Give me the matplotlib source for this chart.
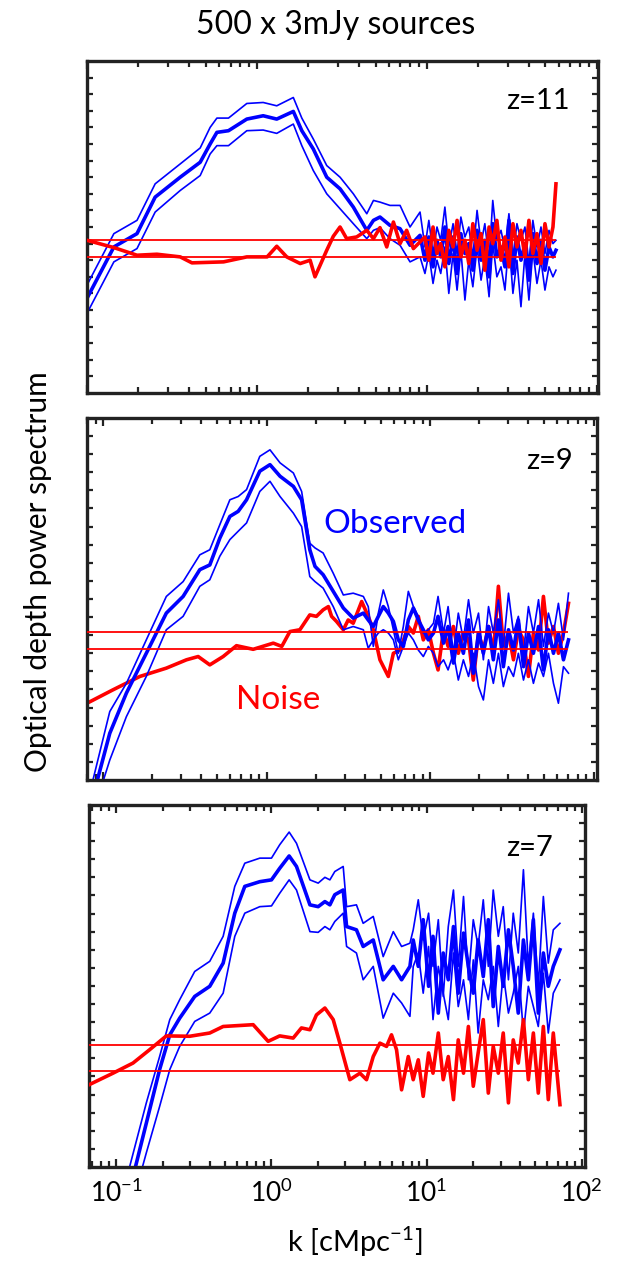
import numpy as np
import matplotlib.pyplot as plt
from matplotlib.ticker import LogLocator, FuncFormatter, NullFormatter

plt.rcParams['font.family'] = ['Lato', 'DejaVu Sans']
plt.rcParams['mathtext.default'] = 'regular'

BLUE = (0, 0, 1)
RED = (1, 0, 0)

# ---------------- z = 11 ----------------
z11_k_obs = [0.100, 0.144, 0.197, 0.252, 0.354, 0.464, 0.531, 0.582, 0.681, 0.873,
             1.09, 1.31, 1.64, 1.84, 2.15, 2.58, 3.09, 3.70, 4.44, 4.86, 5.31, 6.08,
             6.97, 7.98, 9.14]
z11_k_red = [0.100, 0.144, 0.197, 0.258, 0.354, 0.415, 0.637, 0.873, 1.15, 1.31, 1.50,
             1.80, 2.06, 2.20, 2.58, 2.82, 3.09, 3.38, 3.87, 4.44, 4.86, 5.31, 5.82,
             6.37, 6.97, 7.62, 8.35]
z11_k_high = [9.77, 10.3, 10.9, 11.5, 12.1, 12.8, 13.5, 14.3, 15.1, 15.9, 16.8, 17.7,
              18.7, 19.8, 20.9, 22.0, 23.3, 24.5, 25.9, 27.4, 28.9, 30.5, 32.2, 34.0,
              35.9, 37.9, 40.0, 42.2, 44.6, 47.1, 49.7, 52.5, 55.4, 57.7]
z11_hi = [32.5, 48.0, 52.0, 63.0, 69.0, 73.8, 80.0, 82.8, 82.8, 87.2, 87.5, 86.5, 89.0,
          82.8, 76.5, 68.5, 65.0, 60.0, 54.0, 58.0, 57.5, 56.5, 56.5, 50.0, 54.5,
          44, 52, 42, 50, 46, 56, 44, 51, 42, 53, 47, 50, 41, 55, 45, 51, 40, 58, 46,
          49, 43, 54, 41, 51, 46, 50, 39, 52, 44, 50, 42, 49, 45, 46]
z11_mid = [28.5, 44.0, 48.0, 59.0, 65.0, 69.5, 75.0, 78.5, 79.0, 82.5, 83.5, 82.5, 84.8,
           79.0, 73.5, 65.0, 61.5, 56.0, 49.0, 52.0, 53.0, 50.5, 49.5, 44.5, 47.5,
           40, 47, 38, 46, 41, 50, 39, 47, 36, 48, 42, 45, 37, 49, 40, 46, 35, 51, 41,
           44, 38, 52, 36, 47, 40, 45, 34, 48, 39, 46, 37, 44, 41, 43]
z11_lo = [24.0, 39.5, 43.5, 54.5, 61.0, 65.5, 72.0, 74.5, 74.5, 79.0, 79.2, 78.2, 81.0,
          74.5, 67.0, 60.0, 55.5, 51.0, 46.5, 49.0, 49.8, 46.5, 44.5, 39.5, 41.0,
          36, 42, 33, 40, 36, 44, 30, 42, 31, 43, 28, 40, 32, 44, 34, 41, 29, 45, 35,
          38, 31, 46, 30, 40, 26, 42, 28, 43, 33, 40, 31, 38, 35, 37]
z11_noise = [46.0, 43.8, 41.5, 41.8, 41.0, 39.2, 39.5, 41.0, 41.0, 44.2, 41.0, 39.0,
             40.0, 35.0, 43.0, 47.2, 50.0, 46.5, 47.0, 49.0, 46.5, 49.8, 44.0, 51.5,
             45.0, 49.0, 43.5,
             47, 40, 50, 42, 45, 38, 49, 44, 52, 41, 46, 39, 51, 43, 48, 37, 50, 45,
             52, 40, 47, 38, 51, 44, 49, 41, 52, 42, 48, 39, 51, 44, 50, 63]
z11_levels = [46.2, 41.1]

# ---------------- z = 9 ----------------
z9_k_obs = [0.0868, 0.110, 0.139, 0.184, 0.244, 0.309, 0.391, 0.450, 0.518, 0.597,
            0.671, 0.755, 0.910, 1.05, 1.21, 1.46, 1.64, 1.84, 1.98, 2.22, 2.56, 2.95,
            3.39]
z9_k_red = [0.0798, 0.115, 0.168, 0.244, 0.324, 0.382, 0.450, 0.543, 0.655, 0.829,
            1.10, 1.24, 1.39, 1.60, 1.84, 2.02, 2.22, 2.39, 2.50, 2.68, 2.95, 3.16,
            3.39, 3.82, 4.19, 4.50, 4.94, 5.56, 5.97, 6.55]
z9_k_high = [3.91, 4.19, 4.50, 4.83, 5.18, 5.56, 5.97, 6.40, 6.87, 7.37, 7.91, 8.48,
             9.10, 9.77, 10.5, 11.2, 12.1, 12.9, 13.9, 14.9, 16.0, 17.2, 18.4, 19.8,
             21.2, 22.8, 24.4, 26.2, 28.1, 30.2, 32.4, 34.7, 37.3, 40.0, 42.9, 46.1,
             49.4, 53.0, 56.9, 61.0, 65.5, 70.3]
z9_hi = [0, 18.9, 26.7, 38.7, 50.7, 54.8, 62.2, 63.6, 70.5, 77.4, 78.3, 80.2, 89.4,
         91.2, 87.6, 84.8, 79.7, 65.4, 64.1, 62.7, 57.1, 51.1, 51.6,
         50.7, 47.9, 36.9, 46.1, 52.5, 47.9, 41.5, 35.0, 42.4, 52.1, 47.9, 45.2, 40.6,
         41.5, 43.3, 50.7, 40.6, 47.9, 35.0, 46.1, 38.7, 49.8, 40.6, 46.1, 33.2, 47.9,
         40.6, 49.8, 36.9, 51.6, 40.6, 45.2, 35.0, 47.9, 40.6, 49.8, 36.9, 46.1, 40.6,
         48.8, 38.7, 51.6]
z9_mid = [-4.6, 12.9, 24.0, 35.0, 46.1, 50.7, 58.1, 59.4, 66.8, 72.8, 74.2, 77.4, 85.3,
          87.1, 83.9, 81.1, 77.4, 63.6, 59.0, 56.7, 52.1, 47.5, 44.7,
          46.1, 44.2, 42.4, 45.2, 47.9, 46.1, 43.8, 38.7, 36.9, 44.2, 47.5, 44.2, 41.5,
          38.7, 40.6, 45.2, 37.8, 42.4, 32.3, 40.6, 35.0, 44.2, 29.5, 40.6, 35.0, 42.4,
          33.2, 44.2, 31.3, 41.5, 35.9, 44.2, 31.3, 40.6, 35.0, 42.4, 30.4, 41.5, 35.0,
          40.6, 33.2, 38.7]
z9_lo = [-9.2, 5.5, 17.5, 28.6, 41.5, 45.2, 53.5, 55.3, 61.8, 66.4, 68.7, 71.0, 79.7,
         82.5, 78.3, 73.7, 70.0, 56.2, 54.8, 53.0, 47.9, 41.5, 42.4,
         41.5, 36.4, 38.7, 40.6, 41.5, 40.6, 38.7, 33.2, 36.9, 40.6, 38.7, 35.9, 34.1,
         36.9, 35.0, 31.3, 33.2, 30.4, 35.0, 27.6, 33.2, 28.6, 35.0, 25.8, 22.1, 33.2,
         26.7, 35.0, 25.8, 31.3, 28.6, 35.0, 27.6, 33.2, 26.7, 32.3, 28.6, 35.0, 26.7,
         21.2, 31.3, 29.5]
z9_noise = [21.2, 24.9, 28.6, 30.9, 33.2, 34.1, 31.8, 34.1, 37.1, 36.1, 37.8, 36.9,
            41.0, 41.5, 45.6, 45.2, 47.0, 47.9, 45.2, 43.8, 41.5, 44.2, 43.3, 49.3,
            45.2, 41.5, 33.2, 28.6, 35.0, 35.9,
            42.4, 40.6, 45.2, 38.7, 41.5, 35.0, 30.4, 41.5, 36.9, 42.4, 35.0, 40.6,
            38.7, 27.6, 40.6, 35.9, 42.4, 35.0, 53.5, 36.9, 40.6, 33.2, 41.5, 38.7,
            28.6, 40.6, 35.9, 50.7, 37.8, 42.4, 35.0, 40.6, 48.8]
z9_levels = [41.0, 36.2]

# ---------------- z = 7 ----------------
z7_k_obs = [0.122, 0.156, 0.190, 0.221, 0.256, 0.320, 0.400, 0.488, 0.580, 0.673,
            0.841, 1.00, 1.13, 1.30, 1.45, 1.77, 2.00, 2.21, 2.38, 2.56, 2.90, 3.05,
            3.53, 3.90, 4.53, 5.25, 6.10, 6.90, 7.81]
z7_k_red = [0.0666, 0.0951, 0.128, 0.164, 0.210, 0.297, 0.400, 0.488, 0.762, 0.952,
            1.13, 1.38, 1.56, 1.77, 1.95, 2.21, 2.50, 2.76, 3.20, 3.72, 4.10, 4.53,
            5.00, 5.52, 5.94, 6.40, 6.90, 7.62]
z7_k_high = [8.20, 8.84, 9.51, 10.3, 11.0, 11.9, 12.8, 13.8, 14.9, 16.0, 17.3, 18.6,
             20.0, 21.5, 23.2, 25.0, 26.9, 29.0, 31.2, 33.7, 36.2, 39.0, 42.1, 45.3,
             48.8, 52.5, 56.6, 60.9, 65.6, 72.4]
z7_hi = [0.2, 17.7, 30.5, 40.7, 46.2, 54.0, 56.8, 63.7, 77.5, 83.9, 85.3, 85.3, 89.0,
         92.5, 89.4, 79.3, 78.4, 80.0, 79.3, 81.6, 83.0, 71.9, 72.4, 67.3, 69.2, 58.1,
         65.0, 60.9, 61.8,
         65.5, 73.8, 62.7, 70.1, 55.4, 68.3, 47.1, 66.4, 76.5, 55.4, 74.7, 51.7, 68.3,
         60.9, 73.8, 55.4, 76.5, 63.7, 71.9, 51.7, 70.1, 59.1, 82.1, 55.4, 70.1, 49.9,
         74.7, 56.3, 65.5, 67.3]
z7_mid = [-6.3, 12.1, 26.9, 36.5, 41.1, 47.1, 49.9, 56.3, 70.1, 77.5, 78.8, 79.3, 82.5,
          85.9, 83.0, 72.4, 71.9, 73.3, 72.4, 75.2, 76.5, 66.4, 65.5, 60.9, 62.7, 51.7,
          55.4, 51.7, 55.4,
          62.7, 55.4, 68.3, 49.9, 63.7, 42.5, 59.1, 51.7, 66.4, 48.0, 64.6, 55.4, 48.0,
          62.7, 52.6, 68.3, 44.3, 60.9, 49.9, 65.5, 55.4, 42.5, 62.7, 51.7, 68.3, 42.5,
          59.1, 49.9, 55.4, 60.0]
z7_lo = [-12.7, 3.9, 16.7, 26.9, 33.3, 40.2, 42.5, 48.0, 63.7, 70.1, 71.9, 72.1, 75.6,
         79.3, 76.5, 65.0, 64.8, 66.4, 65.5, 67.8, 70.1, 60.9, 59.1, 51.7, 55.4, 41.1,
         48.0, 45.3, 41.6,
         55.4, 59.1, 48.0, 60.9, 40.7, 55.4, 48.0, 40.7, 59.1, 44.3, 51.7, 40.7, 57.2,
         37.0, 51.7, 46.2, 55.4, 38.8, 53.5, 42.5, 48.0, 55.4, 37.0, 49.9, 44.3, 38.8,
         53.5, 37.0, 48.0, 51.7]
z7_noise = [22.7, 25.9, 28.7, 32.4, 36.2, 36.1, 37.0, 38.8, 39.3, 34.7, 36.2, 35.6,
            38.4, 37.9, 42.0, 43.9, 40.7, 34.2, 24.1, 25.9, 24.1, 30.5, 34.2, 33.3,
            36.5, 32.4, 21.3, 30.5,
            24.1, 29.6, 19.5, 31.5, 25.9, 37.0, 24.1, 30.5, 18.6, 35.1, 25.9, 38.8,
            22.3, 31.5, 40.7, 20.4, 33.3, 25.9, 37.0, 17.7, 35.1, 28.7, 40.7, 24.1,
            37.0, 20.4, 38.8, 18.6, 37.0, 17.2]
z7_levels = [33.8, 26.6]


def panel(ax, k_obs, k_red, k_high, hi, mid, lo, noise, levels, xlim, zlabel, zx,
          red_on_top=True, high_from=0):
    k_blue = np.concatenate([k_obs, k_high])
    k_noise = np.concatenate([k_red, k_high[high_from:]])
    zr = 3 if red_on_top else 1
    ax.plot(k_blue, hi, color=BLUE, lw=1.2, zorder=2)
    ax.plot(k_blue, lo, color=BLUE, lw=1.2, zorder=2)
    ax.plot(k_blue, mid, color=BLUE, lw=2.6, zorder=2)
    ax.plot(k_noise, noise, color=RED, lw=2.6, zorder=zr)
    ax.hlines(levels, k_noise[0], k_noise[-1], color=RED, lw=1.3, zorder=4)

    ax.set_xscale('log')
    ax.set_xlim(*xlim)
    ax.set_ylim(0, 100)
    ax.set_yticks(np.arange(5, 100, 5))
    ax.xaxis.set_major_locator(LogLocator(base=10, numticks=10))
    ax.xaxis.set_minor_locator(LogLocator(base=10, subs=np.arange(2, 10), numticks=10))
    ax.xaxis.set_minor_formatter(NullFormatter())
    ax.tick_params(which='both', direction='in', top=True, right=True,
                   labelleft=False, color='#222222')
    ax.tick_params(which='major', length=6, width=1.6)
    ax.tick_params(which='minor', length=4, width=1.6)
    ax.tick_params(axis='y', which='major', length=4, width=1.6)
    for s in ax.spines.values():
        s.set_linewidth(2.4)
        s.set_color('#222222')
    ax.text(zx, 0.88, zlabel, transform=ax.transAxes, ha='right', va='center',
            fontsize=21)


fig = plt.figure(figsize=(6.28, 12.65), dpi=100)

ax1 = fig.add_axes([0.1385, 0.6893, 0.8137, 0.2625])
panel(ax1, z11_k_obs, z11_k_red, z11_k_high, z11_hi, z11_mid, z11_lo, z11_noise,
      z11_levels, (0.1, 102), 'z=11', 0.945)
ax1.tick_params(labelbottom=False)

ax2 = fig.add_axes([0.1385, 0.3834, 0.8121, 0.2862])
panel(ax2, z9_k_obs, z9_k_red, z9_k_high, z9_hi, z9_mid, z9_lo, z9_noise,
      z9_levels, (0.0798, 105), 'z=9', 0.953, red_on_top=False, high_from=9)
ax2.tick_params(labelbottom=False)
ax2.text(0.604, 0.707, 'Observed', transform=ax2.transAxes, color=BLUE,
         ha='center', va='center', fontsize=24)
ax2.text(0.375, 0.221, 'Noise', transform=ax2.transAxes, color=RED,
         ha='center', va='center', fontsize=24)

ax3 = fig.add_axes([0.1417, 0.0775, 0.7898, 0.2862])
panel(ax3, z7_k_obs, z7_k_red, z7_k_high, z7_hi, z7_mid, z7_lo, z7_noise,
      z7_levels, (0.0666, 105), 'z=7', 0.935)
ax3.xaxis.set_major_formatter(FuncFormatter(lambda v, p: '10$^{%d}$' % round(np.log10(v))))
ax3.tick_params(axis='x', which='major', labelsize=19, pad=9)

fig.text(0.535, 0.980, '500 x 3mJy sources', ha='center', va='center', fontsize=23)
fig.text(0.061, 0.548, 'Optical depth power spectrum', rotation=90,
         ha='center', va='center', fontsize=21.5)
fig.text(0.565, 0.018, 'k [cMpc$^{-1}$]', ha='center', va='center', fontsize=21)

fig.savefig('out.png', dpi=100)
